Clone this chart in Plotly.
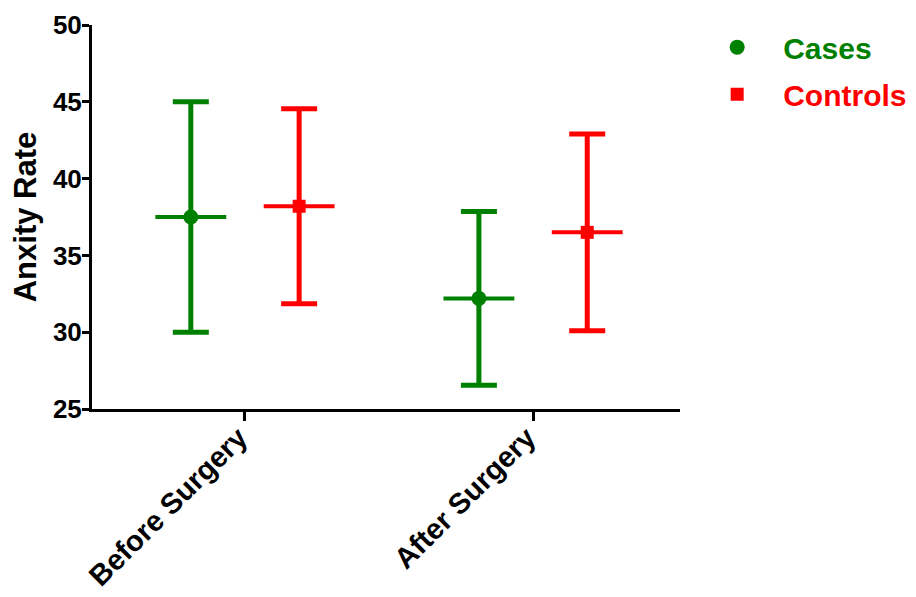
import plotly.graph_objects as go

categories = ["Before Surgery", "After Surgery"]
cases_mean = [37.5, 32.2]
cases_sd = [7.5, 5.65]
controls_mean = [38.2, 36.5]
controls_sd = [6.35, 6.4]
y_ticks = [25, 30, 35, 40, 45, 50]

GREEN = "#008000"
RED = "#ff0000"
FONT = "Liberation Sans, Arial, sans-serif"
OFFSET = 0.188        # group offset (style)
MEAN_HALF = 0.123     # half width of mean bar (style)

idx = list(range(len(categories)))

fig = go.Figure()

def add_group(name, means, sds, color, symbol, size, off):
    xs = [i + off for i in idx]
    fig.add_trace(go.Scatter(
        x=xs, y=means, mode="markers",
        name=f"<span style='color:{color}'><b>{name}</b></span>",
        legendgroup=name,
        marker=dict(color=color, symbol=symbol, size=size),
        error_y=dict(type="data", array=sds, visible=True, color=color,
                     thickness=5, width=18),
        error_x=dict(type="constant", value=MEAN_HALF, visible=True, color=color,
                     thickness=4, width=0),
    ))

add_group("Cases", cases_mean, cases_sd, GREEN, "circle", 15, -OFFSET)
add_group("Controls", controls_mean, controls_sd, RED, "square", 13, OFFSET)

fig.update_layout(
    width=916, height=597,
    margin=dict(l=92, r=236, t=25, b=188, autoexpand=False),
    paper_bgcolor="white", plot_bgcolor="white",
    font=dict(family=FONT, color="black"),
    showlegend=True,
    legend=dict(x=1.019, y=1.01, xanchor="left", yanchor="top",
                font=dict(size=30, family=FONT),
                itemwidth=82, tracegroupgap=5, traceorder="grouped"),
)
fig.update_xaxes(
    range=[-0.531, 1.51], tickmode="array", tickvals=idx, ticktext=categories,
    tickangle=-45, showline=True, linecolor="black", linewidth=3,
    ticks="outside", ticklen=9, tickwidth=3, tickcolor="black",
    ticklabelstandoff=-12, ticklabelshift=-6,
    showgrid=False, zeroline=False, automargin=False,
    tickfont=dict(size=29, family=FONT, color="black", weight="bold"),
)
fig.update_yaxes(
    range=[25, 50], tickmode="array", tickvals=y_ticks,
    showline=True, linecolor="black", linewidth=3,
    ticks="outside", ticklen=7, tickwidth=3, tickcolor="black",
    ticklabelstandoff=-5,
    showgrid=False, zeroline=False, automargin=False,
    tickfont=dict(size=26, family=FONT, color="black", weight="bold"),
    title=dict(text="<b>Anxity Rate</b>", font=dict(size=31, family=FONT), standoff=8),
)

fig.write_html("out.html", config={"displayModeBar": False},
               post_script="document.body.style.margin='0px';")
